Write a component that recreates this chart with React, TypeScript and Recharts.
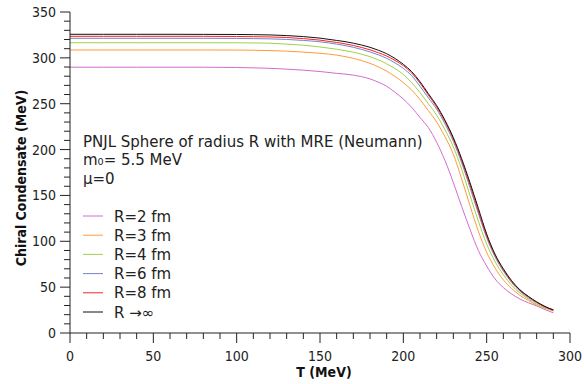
import React from "react";
import { LineChart, Line, XAxis, YAxis } from "recharts";

const temps = [0, 20, 40, 60, 80, 100, 110, 120, 130, 140, 150, 160, 165, 170, 175, 180, 185, 190, 195, 200, 205, 210, 215, 220, 225, 230, 235, 240, 245, 250, 255, 260, 265, 270, 275, 280, 285, 290];

const r2 = [289.8, 289.8, 289.8, 289.8, 289.8, 289.5, 289.1, 288.6, 287.7, 286.6, 285.1, 283.1, 282.3, 281.2, 279.5, 277.0, 273.5, 269.0, 262.5, 255.0, 246.0, 235.0, 224.0, 208.0, 188.0, 164.0, 138.0, 113.0, 90.0, 73.0, 59.0, 49.5, 42.5, 37.0, 33.0, 29.5, 25.5, 22.0];
const r3 = [308.6, 308.6, 308.6, 308.6, 308.6, 308.5, 308.3, 307.9, 307.3, 306.3, 305.0, 303.0, 301.4, 299.5, 297.0, 294.0, 290.2, 285.5, 279.8, 273.0, 265.0, 254.5, 242.5, 230.0, 214.0, 195.0, 168.0, 139.0, 111.0, 88.0, 71.0, 58.0, 48.5, 41.0, 35.5, 30.5, 27.0, 24.0];
const r4 = [316.5, 316.5, 316.5, 316.5, 316.5, 316.4, 316.3, 316.0, 315.0, 313.8, 311.9, 309.4, 307.9, 306.2, 304.0, 301.3, 297.8, 293.5, 288.3, 282.0, 273.0, 262.0, 250.0, 237.5, 221.5, 203.0, 178.5, 150.0, 122.0, 97.0, 78.0, 63.5, 52.0, 43.5, 37.0, 31.5, 27.5, 25.0];
const r6 = [321.3, 321.3, 321.3, 321.3, 321.3, 321.2, 321.0, 320.7, 320.1, 319.0, 317.5, 315.0, 313.4, 311.5, 309.2, 306.5, 303.3, 299.5, 294.5, 288.5, 280.5, 269.0, 256.5, 244.0, 228.0, 209.0, 185.5, 158.5, 130.5, 104.0, 83.0, 67.5, 55.0, 45.5, 38.5, 33.0, 28.5, 25.5];
const r8 = [323.5, 323.5, 323.5, 323.5, 323.5, 323.3, 323.1, 322.8, 322.2, 321.0, 319.3, 316.8, 315.3, 313.5, 311.3, 308.8, 305.6, 302.0, 297.2, 291.5, 283.5, 272.5, 259.5, 246.5, 230.5, 211.5, 188.0, 161.5, 133.0, 106.0, 85.0, 69.0, 56.0, 46.5, 39.5, 33.5, 28.5, 25.0];
const rInf = [325.7, 325.7, 325.7, 325.7, 325.6, 325.5, 325.3, 325.0, 324.3, 323.2, 321.5, 319.0, 317.7, 316.0, 314.0, 311.5, 308.3, 304.5, 299.3, 293.0, 285.0, 274.0, 261.0, 248.0, 232.0, 213.0, 190.0, 164.0, 136.0, 108.0, 86.0, 70.0, 57.0, 47.0, 40.0, 34.0, 29.0, 25.0];

const seriesNames = ["R=2 fm", "R=3 fm", "R=4 fm", "R=6 fm", "R=8 fm", "R \u2192\u221E"];
const seriesKeys = ["r2", "r3", "r4", "r6", "r8", "rInf"];
const seriesColors = ["#d46ccf", "#ff9a3c", "#9ed24a", "#7585c8", "#ff2020", "#111111"];
const seriesValues = [r2, r3, r4, r6, r8, rInf];

const xTicks = [0, 10, 20, 30, 40, 50, 60, 70, 80, 90, 100, 110, 120, 130, 140, 150, 160, 170, 180, 190, 200, 210, 220, 230, 240, 250, 260, 270, 280, 290, 300];
const xMajor = [0, 50, 100, 150, 200, 250, 300];
const yTicks = [0, 10, 20, 30, 40, 50, 60, 70, 80, 90, 100, 110, 120, 130, 140, 150, 160, 170, 180, 190, 200, 210, 220, 230, 240, 250, 260, 270, 280, 290, 300, 310, 320, 330, 340, 350];
const yMajor = [0, 50, 100, 150, 200, 250, 300, 350];

const titleLines = ["PNJL Sphere of radius R with MRE (Neumann)", "m\u2080= 5.5 MeV", "\u03BC=0"];
const xLabel = "T (MeV)";
const yLabel = "Chiral Condensate (MeV)";

const data = temps.map((t, i) => {
  const row: any = { T: t };
  seriesKeys.forEach((k, j) => {
    row[k] = seriesValues[j][i];
  });
  return row;
});

const FONT_C = "'DejaVu Sans Condensed', 'DejaVu Sans', sans-serif";
const FONT = "'DejaVu Sans', sans-serif";
const AX = "#222";

const XTick = (props: any) => {
  const { x, y, payload } = props;
  const major = xMajor.includes(payload.value);
  return (
    <g>
      <line x1={x} y1={y} x2={x} y2={y + (major ? 10 : 6)} stroke={AX} strokeWidth={1} />
      {major && (
        <text x={x} y={y + 28} textAnchor="middle" fontFamily={FONT_C} fontSize={14} fill="#222">
          {payload.value}
        </text>
      )}
    </g>
  );
};

const YTick = (props: any) => {
  const { x, y, payload } = props;
  const major = yMajor.includes(payload.value);
  return (
    <g>
      <line x1={x} y1={y} x2={x - (major ? 10 : 6)} y2={y} stroke={AX} strokeWidth={1} />
      {major && (
        <text x={x - 14} y={y + 5} textAnchor="end" fontFamily={FONT_C} fontSize={14} fill="#222">
          {payload.value}
        </text>
      )}
    </g>
  );
};

export default function App() {
  return (
    <div style={{ position: "absolute", left: 0, top: 0, width: 584, height: 384, background: "#fff" }}>
      <LineChart width={584} height={384} data={data} margin={{ top: 12, right: 14, left: 0, bottom: 0 }}>
        <XAxis
          dataKey="T"
          type="number"
          domain={[0, 300]}
          ticks={xTicks}
          interval={0}
          tickSize={0}
          tickMargin={0}
          tick={<XTick />}
          height={51}
          stroke={AX}
          axisLine={{ stroke: AX }}
        />
        <YAxis
          type="number"
          domain={[0, 350]}
          ticks={yTicks}
          interval={0}
          tickSize={0}
          tickMargin={0}
          tick={<YTick />}
          width={70}
          stroke={AX}
          axisLine={{ stroke: AX }}
        />
        {seriesKeys.map((k, j) => (
          <Line
            key={k}
            dataKey={k}
            type="monotone"
            stroke={seriesColors[j]}
            strokeWidth={1}
            dot={false}
            isAnimationActive={false}
          />
        ))}
      </LineChart>
      <svg width={584} height={384} style={{ position: "absolute", left: 0, top: 0, pointerEvents: "none" }}>
        {titleLines.map((t, i) => (
          <text key={t} x={83} y={147 + i * 18.3} fontFamily={FONT} fontSize={15} fill="#222">
            {t}
          </text>
        ))}
        {seriesNames.map((n, i) => (
          <g key={n}>
            <line x1={83} x2={103} y1={216 + i * 19.2} y2={216 + i * 19.2} stroke={seriesColors[i]} strokeWidth={1} />
            <text x={114} y={221.5 + i * 19.2} fontFamily={FONT} fontSize={15} fill="#222">
              {n}
            </text>
          </g>
        ))}
        <text x={324} y={377} textAnchor="middle" fontFamily={FONT_C} fontSize={14} fontWeight="bold" fill="#111">
          {xLabel}
        </text>
        <text
          x={0}
          y={0}
          transform="translate(26,178) rotate(-90)"
          textAnchor="middle"
          fontFamily={FONT_C}
          fontSize={14}
          fontWeight="bold"
          fill="#111"
        >
          {yLabel}
        </text>
      </svg>
    </div>
  );
}
